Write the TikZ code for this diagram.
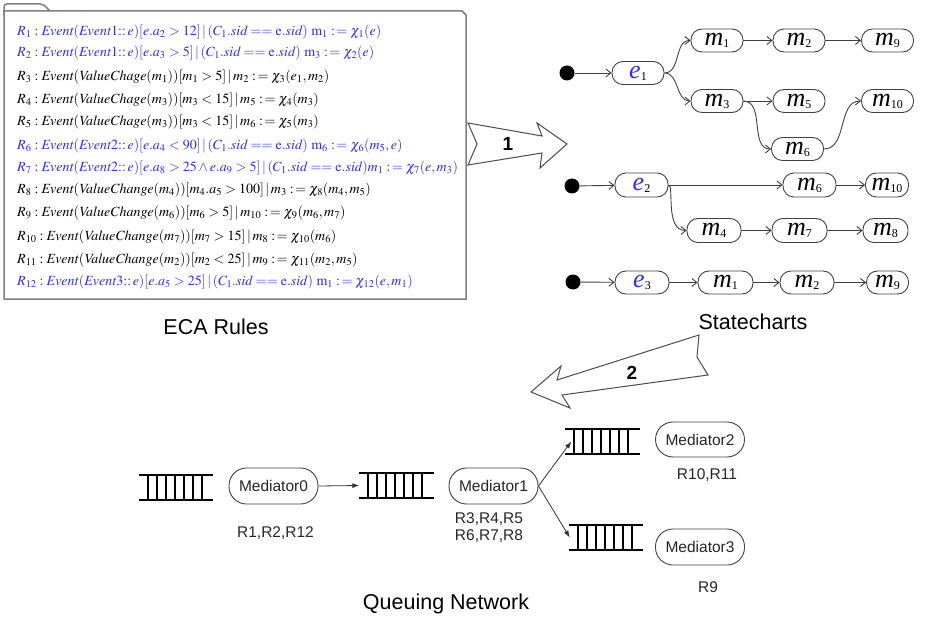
\documentclass[tikz,border=0pt]{standalone}
\usepackage{mathptmx}
\usepackage{fontspec}
\setmainfont{Liberation Serif}
\setsansfont{Liberation Sans}
\usetikzlibrary{arrows.meta,calc}
\definecolor{rblue}{RGB}{45,45,245}
\newcommand\asg{\mathrel{:\mkern2mu=}}
\newcommand\sm[2]{{\fontsize{26}{26}\selectfont\itshape #1}{\fontsize{12}{12}\selectfont\raisebox{-2pt}{#2}}}
\newcommand\se[1]{{\fontsize{26}{26}\selectfont\itshape\textcolor{rblue}{e}}{\fontsize{12}{12}\selectfont\raisebox{-2pt}{#1}}}
\newcommand\qdraw[1]{%
  \draw[qline] (#1.north west) -- (#1.north east) (#1.south west) -- (#1.south east);
  \foreach \i in {0,...,6} {\draw[qline] ($(#1.north west)+({9+9*\i},0)$) -- ($(#1.south west)+({9+9*\i},0)$);}
}
\tikzset{
  st/.style={draw=black!75, line width=0.9pt, rounded corners=11pt, minimum height=23pt, minimum width=52pt, inner sep=0pt},
  med/.style={draw=black!75, line width=0.9pt, rounded corners=17.5pt, minimum height=36pt, minimum width=89pt, inner sep=0pt, font=\sffamily\fontsize{15.5}{16}\selectfont, text=black!85},
  tr/.style={draw=black!75, line width=0.9pt, -{Straight Barb[length=5pt,width=8pt]}},
  qa/.style={draw=black!80, line width=0.8pt, -{Latex[length=7pt,width=5pt]}},
  qline/.style={line width=2.3pt},
  queue/.style={minimum width=74pt, minimum height=25pt, inner sep=0pt},
  sdot/.style={circle, fill=black, minimum size=15pt, inner sep=0pt},
  rule/.style={anchor=west, inner sep=0pt, font=\fontsize{14}{15}\selectfont},
  lbl/.style={font=\sffamily\fontsize{15.5}{16}\selectfont, text=black!85},
  ttl/.style={font=\sffamily\fontsize{21.5}{22}\selectfont},
  barrow/.style={draw=black!70, line width=1pt, fill=white},
  boxline/.style={draw=black!50, line width=1.5pt}
}
\begin{document}
\begin{tikzpicture}[x=1pt,y=1pt]
\useasboundingbox (0,0) rectangle (925,-617);
% ECA box
\draw[boxline, rounded corners=3pt] (4,-16) -- (4,-4) -- (43,-4) -- (50,-11);
\draw[boxline] (4,-11) -- (462,-11) -- (466,-15) -- (466,-299) -- (4,-299) -- cycle;
\node[rule,text=rblue] (r1) at (17,-32) {$R_1: \mathit{Event}(\mathit{Event}1{::}\,e)[e.a_2>12]\,|\,(C_1.\mathit{sid} == \mathrm{e}.\mathit{sid})\ \mathrm{m}_1 \asg \chi_1(e)$};
\node[rule,text=rblue] (r2) at (17,-53) {$R_2: \mathit{Event}(\mathit{Event}1{::}\,e)[e.a_3>5]\,|\,(C_1.\mathit{sid} == \mathrm{e}.\mathit{sid})\ \mathrm{m}_3 \asg \chi_2(e)$};
\node[rule] (r3) at (17,-77) {$R_3: \mathit{Event}(\mathit{ValueChage}(m_1))[m_1>5]\,|\,m_2 \asg \chi_3(e_1,m_2)$};
\node[rule] (r4) at (17,-100) {$R_4: \mathit{Event}(\mathit{ValueChage}(m_3))[m_3<15]\,|\,m_5 \asg \chi_4(m_3)$};
\node[rule] (r5) at (17,-122) {$R_5: \mathit{Event}(\mathit{ValueChage}(m_3))[m_3<15]\,|\,m_6 \asg \chi_5(m_3)$};
\node[rule,text=rblue] (r6) at (17,-146) {$R_6: \mathit{Event}(\mathit{Event}2{::}\,e)[e.a_4<90]\,|\,(C_1.\mathit{sid} == \mathrm{e}.\mathit{sid})\ \mathrm{m}_6 \asg \chi_6(m_5,e)$};
\node[rule,text=rblue] (r7) at (17,-168) {$R_7: \mathit{Event}(\mathit{Event}2{::}\,e)[e.a_8>25\wedge e.a_9>5]\,|\,(C_1.\mathit{sid} == \mathrm{e}.\mathit{sid})m_1 \asg \chi_7(e,m_3)$};
\node[rule] (r8) at (17,-190) {$R_8: \mathit{Event}(\mathit{ValueChange}(m_4))[m_4.a_5>100]\,|\,m_3 \asg \chi_8(m_4,m_5)$};
\node[rule] (r9) at (17,-213) {$R_9: \mathit{Event}(\mathit{ValueChange}(m_6))[m_6>5]\,|\,m_{10} \asg \chi_9(m_6,m_7)$};
\node[rule] (r10) at (17,-237) {$R_{10}: \mathit{Event}(\mathit{ValueChange}(m_7))[m_7>15]\,|\,m_8 \asg \chi_{10}(m_6)$};
\node[rule] (r11) at (17,-260) {$R_{11}: \mathit{Event}(\mathit{ValueChange}(m_2))[m_2<25]\,|\,m_9 \asg \chi_{11}(m_2,m_5)$};
\node[rule,text=rblue] (r12) at (17,-282) {$R_{12}: \mathit{Event}(\mathit{Event}3{::}\,e)[e.a_5>25]\,|\,(C_1.\mathit{sid} == \mathrm{e}.\mathit{sid})\ \mathrm{m}_1 \asg \chi_{12}(e,m_1)$};
\node[ttl] (t1) at (216,-327) {ECA Rules};
\node[ttl] (t2) at (753,-322) {Statecharts};
\node[ttl] (t3) at (446,-604) {Queuing Network};
% block arrows
\draw[barrow] (468,-123) -- (542,-136) -- (537,-123) -- (567,-144) -- (540,-168) -- (542,-153) -- (468,-165) -- (477,-144) -- cycle;
\node[font=\sffamily\bfseries\fontsize{19}{19}\selectfont] (n1) at (508,-144) {1};
\draw[barrow] (699,-335) -- (557,-380) -- (561,-366) -- (531,-392) -- (570,-408) -- (562,-395) -- (708,-375) -- (697,-357) -- cycle;
\node[font=\sffamily\bfseries\fontsize{19}{19}\selectfont] (n2) at (632,-373) {2};
% statechart row 1
\node[sdot] (d1) at (567,-73) {};
\node[st] (e1) at (638,-73) {\se{1}};
\node[st] (m1) at (717,-40.5) {\sm{m}{1}};
\node[st] (m2) at (799,-40.5) {\sm{m}{2}};
\node[st] (m9) at (887.5,-40.5) {\sm{m}{9}};
\node[st] (m3) at (717,-101) {\sm{m}{3}};
\node[st] (m5) at (799,-101) {\sm{m}{5}};
\node[st] (m10) at (887.5,-101) {\sm{m}{10}};
\node[st] (m6) at (797.5,-149) {\sm{m}{6}};
\draw[tr] (d1) -- (e1);
\draw[tr] (e1.east) to[out=0,in=180] (m1.west);
\draw[tr] (e1.east) to[out=0,in=180] (m3.west);
\draw[tr] (m1) -- (m2);
\draw[tr] (m2) -- (m9);
\draw[tr] (m3) -- (m5);
\draw[tr] (m3.east) to[out=0,in=180] (m6.west);
\draw[tr] (m6.east) to[out=0,in=180] (m10.west);
% row 2
\node[sdot] (d2) at (572,-186) {};
\node[st, minimum width=53pt, minimum height=24pt] (e2) at (641.5,-185) {\se{2}};
\node[st, minimum width=53pt, minimum height=24pt] (m6b) at (809.5,-185) {\sm{m}{6}};
\node[st, minimum width=43pt, minimum height=24pt] (m10b) at (887,-185) {\sm{m}{10}};
\node[st, minimum width=54pt, minimum height=24pt] (m4) at (714,-230.5) {\sm{m}{4}};
\node[st, minimum width=55pt, minimum height=24pt] (m7) at (799.5,-230.5) {\sm{m}{7}};
\node[st, minimum width=45pt, minimum height=24pt] (m8) at (885.5,-230.5) {\sm{m}{8}};
\draw[tr] (d2) -- (e2);
\draw[tr] (e2.east) -- (m6b.west);
\draw[tr] (m6b) -- (m10b);
\draw[tr] (e2.east) .. controls +(6,0) and +(-22,0) .. (m4.west);
\draw[tr] (m4) -- (m7);
\draw[tr] (m7) -- (m8);
% row 3
\node[sdot] (d3) at (573,-282) {};
\node[st, minimum width=54pt, minimum height=23pt] (e3) at (642,-282.5) {\se{3}};
\node[st, minimum width=55pt, minimum height=23pt] (m1b) at (725.5,-282.5) {\sm{m}{1}};
\node[st, minimum width=54pt, minimum height=23pt] (m2b) at (807,-282.5) {\sm{m}{2}};
\node[st, minimum width=42pt, minimum height=23pt] (m9b) at (887.5,-282.5) {\sm{m}{9}};
\draw[tr] (d3) -- (e3);
\draw[tr] (e3) -- (m1b);
\draw[tr] (m1b) -- (m2b);
\draw[tr] (m2b) -- (m9b);
% queuing network
\node[queue] (q0) at (176,-487.5) {};
\node[queue] (q1) at (396.5,-485.5) {};
\node[queue] (q2) at (602.5,-441.5) {};
\node[queue] (q3) at (606,-537.5) {};
\qdraw{q0}\qdraw{q1}\qdraw{q2}\qdraw{q3}
\node[med] (M0) at (273.5,-486) {Mediator0};
\node[med] (M1) at (493.5,-486) {Mediator1};
\node[med, minimum height=35pt] (M2) at (700,-439.5) {Mediator2};
\node[med] (M3) at (700,-547) {Mediator3};
\draw[qa] (M0.east) -- (q1.west);
\draw[qa] (M1.east) -- ([xshift=6pt]q2.west);
\draw[qa] (M1.east) -- ([xshift=1pt]q3.west);
\node[lbl] (l0) at (275.5,-533) {R1,R2,R12};
\node[lbl, align=left] (l1) at (489,-527.5) {R3,R4,R5\\[1pt]R6,R7,R8};
\node[lbl] (l2) at (707,-475) {R10,R11};
\node[lbl] (l3) at (708,-587) {R9};
\end{tikzpicture}
\end{document}
